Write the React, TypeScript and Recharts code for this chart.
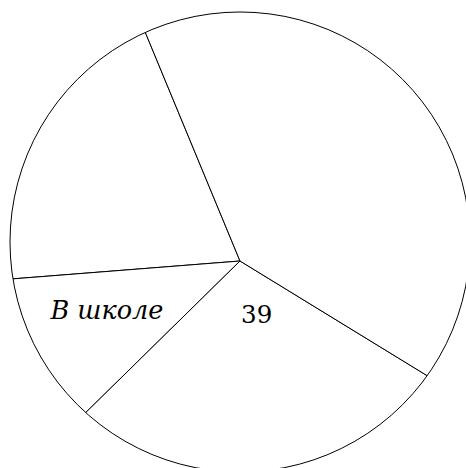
import { PieChart, Pie, Cell } from "recharts";

// slice values, counterclockwise from the upper-left wedge
const sliceNames = ["A", "В школе", "C", "D"];
const sliceValues = [27, 15, 39, 54];
// text written inside the wedges ("" = nothing written)
const sliceLabels = ["", "В школе", "39", ""];
const sliceItalic = [false, true, false, false];

// the outline circle is a single full ring, used to mask and outline the pie
const ringValues = [1];

const data = sliceNames.map((name, i) => ({
  name,
  value: sliceValues[i],
  label: sliceLabels[i],
  italic: sliceItalic[i],
}));
const ringData = ringValues.map((value) => ({ name: "ring", value }));

const RADIAN = Math.PI / 180;
const SERIF = "DejaVu Serif";
// hand-placed labels: distance from the vertex, small angle tweak, size
const LABEL_R = [0, 142, 56, 0];
const LABEL_SHIFT = [0, -4.1, 10.8, 0];
const LABEL_SIZE = [0, 25.5, 24.5, 0];

const renderLabel = (props: any) => {
  const { cx, cy, midAngle, index } = props;
  const item = data[index];
  if (!item || !item.label) return <g />;
  const a = (midAngle + LABEL_SHIFT[index]) * RADIAN;
  const r = LABEL_R[index];
  const x = cx + r * Math.cos(a);
  const y = cy - r * Math.sin(a);
  return (
    <g className="slice-label">
      <text
        x={x}
        y={y}
        textAnchor="middle"
        dominantBaseline="central"
        fill="#000"
        fontFamily={SERIF}
        fontSize={LABEL_SIZE[index]}
        fontStyle={item.italic ? "italic" : "normal"}
      >
        {item.label}
      </text>
    </g>
  );
};

export default function App() {
  return (
    <div style={{ width: 466, height: 468, background: "#fff" }}>
      <style>{`body { margin: 0; background: #fff; }`}</style>
      <PieChart width={466} height={468} margin={{ top: 0, right: 0, bottom: 0, left: 0 }}>
        <Pie
          data={data}
          dataKey="value"
          cx={240}
          cy={261}
          outerRadius={270}
          startAngle={112.5}
          endAngle={472.5}
          stroke="#000"
          strokeWidth={1}
          label={renderLabel}
          labelLine={false}
          isAnimationActive={false}
        >
          {data.map((d) => (
            <Cell key={d.name} fill="#fff" />
          ))}
        </Pie>
        <Pie
          data={ringData}
          dataKey="value"
          cx={240}
          cy={242}
          innerRadius={230}
          outerRadius={420}
          startAngle={-90}
          endAngle={270}
          fill="#fff"
          stroke="#000"
          strokeWidth={1}
          isAnimationActive={false}
        />
      </PieChart>
    </div>
  );
}
